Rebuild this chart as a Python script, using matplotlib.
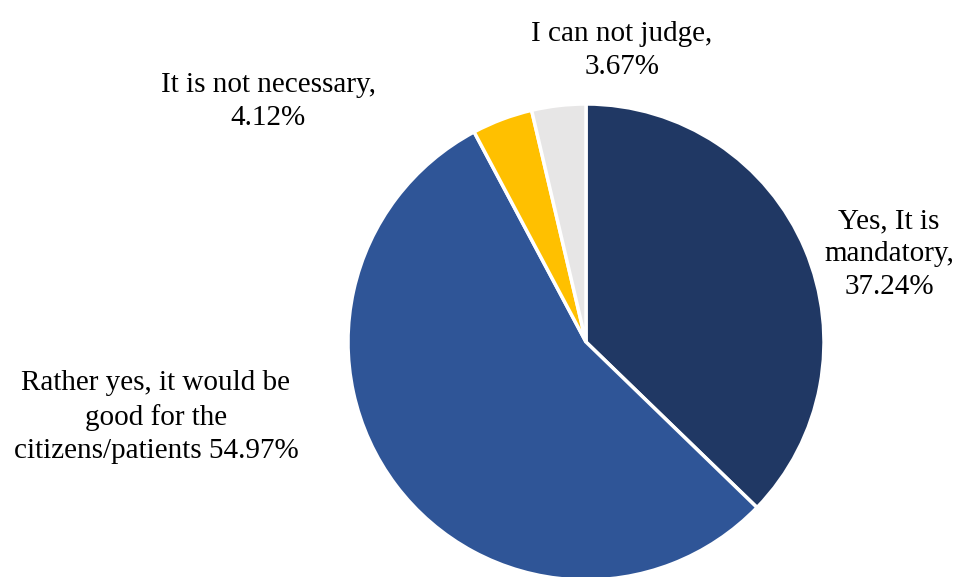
import matplotlib.pyplot as plt

# survey answers, clockwise from 12 o'clock
labels = ["Yes, It is\nmandatory,\n37.24%",
          "Rather yes, it would be\ngood for the\ncitizens/patients 54.97%",
          "It is not necessary,\n4.12%",
          "I can not judge,\n3.67%"]
values = [37.24, 54.97, 4.12, 3.67]
colors = ["#203864", "#2F5597", "#FFC000", "#E7E6E6"]
label_pos = [(1.273, 0.37), (-1.807, -0.315), (-1.336, 1.012), (0.151, 1.223)]

plt.rcParams['font.family'] = ['Liberation Serif', 'DejaVu Serif']

W, H = 957, 577
cx, cy, r = 586, 342, 238
fig = plt.figure(figsize=(W / 100, H / 100), dpi=100)
ax = fig.add_axes([(cx - r) / W, (H - cy - r) / H, 2 * r / W, 2 * r / H])

wedges, _ = ax.pie(values, colors=colors, startangle=90, counterclock=False,
                   radius=1, wedgeprops=dict(edgecolor="white", linewidth=2.5))
for w in wedges:
    w.set_clip_on(False)

for lab, (x, y) in zip(labels, label_pos):
    ax.text(x, y, lab, ha="center", va="center", fontsize=21,
            linespacing=1.35, color="black")

ax.set_xlim(-1, 1)
ax.set_ylim(-1, 1)
ax.set_aspect("auto")
ax.axis("off")

plt.savefig("out.png", dpi=100)
plt.close()
